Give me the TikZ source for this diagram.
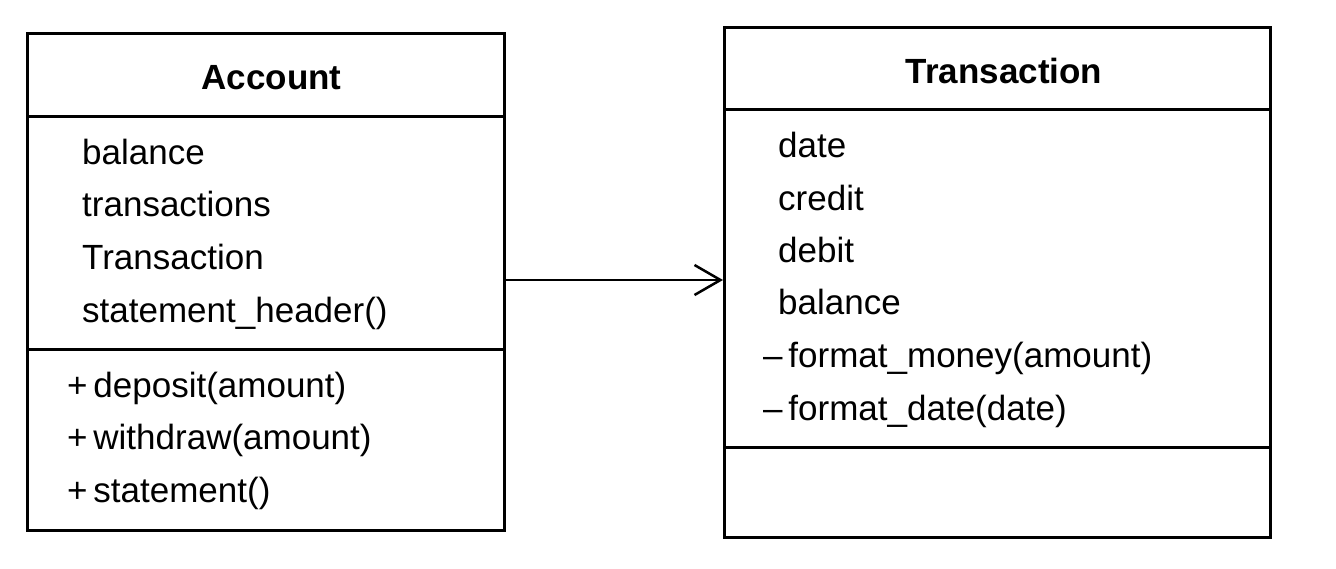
\documentclass[tikz,border=0pt]{standalone}
\usepackage{fontspec}
\setmainfont{Liberation Sans}
\usetikzlibrary{arrows.meta}
\begin{document}
\begin{tikzpicture}[x=1pt,y=-1pt,
  box/.style={draw=black,line width=2.5pt,rectangle,inner sep=0pt,anchor=north west},
  title/.style={font=\fontsize{35}{42}\bfseries\selectfont,anchor=base,inner sep=0pt},
  item/.style={font=\fontsize{35}{42}\selectfont,anchor=base west,inner sep=0pt},
  link/.style={line width=2.5pt,-{Straight Barb[length=26pt,width=30pt,line width=2.5pt]}}]
\useasboundingbox[fill=white] (0,0) rectangle (1336,568);
% Account
\node[box,minimum width=477pt,minimum height=83pt] (ahead) at (26,32) {};
\node[box,minimum width=477pt,minimum height=233pt] (aattr) at (26,115) {};
\node[box,minimum width=477pt,minimum height=181pt] (ameth) at (26,348) {};
\node[title] (atitle) at (271.5,89.5) {Account};
\node[item] (a1) at (82,164.5) {balance};
\node[item] (a2) at (82,216.5) {transactions};
\node[item] (a3) at (82,269.5) {Transaction};
\node[item] (a4) at (82,322.5) {statement\_header()};
\node[item] (m1) at (67,397.5) {+\,deposit(amount)};
\node[item] (m2) at (67,449.5) {+\,withdraw(amount)};
\node[item] (m3) at (67,502.5) {+\,statement()};
% Transaction
\node[box,minimum width=546pt,minimum height=82pt] (thead) at (723,26) {};
\node[box,minimum width=546pt,minimum height=338pt] (tattr) at (723,108) {};
\node[box,minimum width=546pt,minimum height=90pt] (tmeth) at (723,446) {};
\node[title] (ttitle) at (1004,83.5) {Transaction};
\node[item] (t1) at (778,157.5) {date};
\node[item] (t2) at (778,210.5) {credit};
\node[item] (t3) at (778,262.5) {debit};
\node[item] (t4) at (778,314.5) {balance};
\node[item] (t5) at (763,367.5) {–\,format\_money(amount)};
\node[item] (t6) at (763,420.5) {–\,format\_date(date)};
% connector
\draw[link] (aattr.east |- 0,280) -- (tattr.west |- 0,280);
\end{tikzpicture}
\end{document}
